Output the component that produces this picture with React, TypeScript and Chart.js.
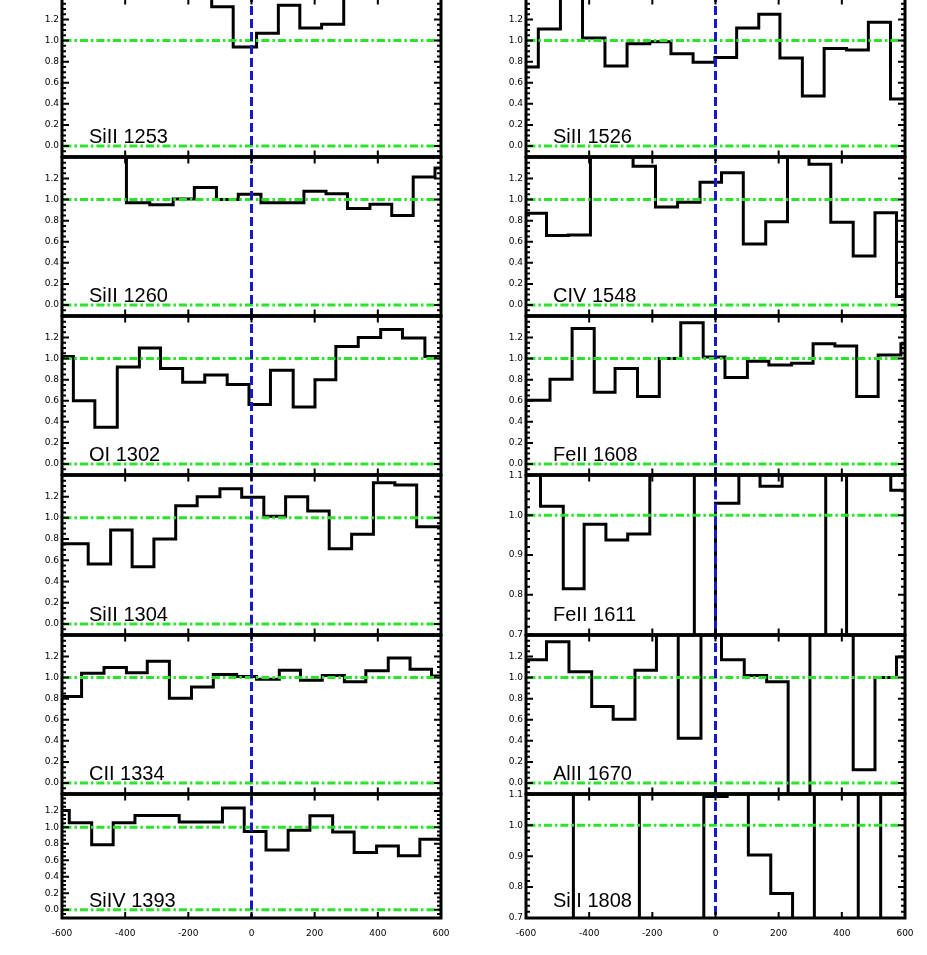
import React, { useEffect, useRef } from "react";
import { Chart, registerables } from "chart.js";

Chart.register(...registerables);

// ---------------- data: velocity bin edges (km/s) and normalised flux per bin ----------------
const si1253Vel = [-700, -126, -58, 16, 85, 153, 222, 292, 700];
const si1253Flux = [1.6, 1.32, 0.94, 1.07, 1.335, 1.12, 1.155, 1.6];

const si1260Vel = [-700, -396, -322, -248, -181, -111, -42, 30, 100, 166, 236, 304, 375, 444, 512, 581, 650];
const si1260Flux = [1.6, 0.97, 0.95, 1.005, 1.115, 1.0, 1.05, 0.97, 0.97, 1.08, 1.055, 0.915, 0.955, 0.85, 1.215, 1.3];

const o1302Vel = [-634, -564, -496, -425, -355, -288, -218, -148, -77, -8, 60, 132, 201, 267, 338, 409, 478, 549, 618];
const o1302Flux = [1.02, 0.6, 0.35, 0.92, 1.1, 0.905, 0.775, 0.845, 0.755, 0.565, 0.89, 0.54, 0.8, 1.115, 1.2, 1.275, 1.195, 1.02];

const si1304Vel = [-660, -517, -446, -378, -309, -240, -172, -100, -31, 39, 108, 178, 246, 317, 386, 454, 523, 591, 660];
const si1304Flux = [0.755, 0.565, 0.885, 0.54, 0.8, 1.115, 1.2, 1.275, 1.195, 1.015, 1.2, 1.065, 0.71, 0.845, 1.33, 1.31, 0.915, 0.915];

const c1334Vel = [-610, -538, -467, -396, -330, -260, -190, -121, -47, 16, 88, 155, 224, 294, 362, 433, 502, 570, 640];
const c1334Flux = [0.82, 1.04, 1.095, 1.045, 1.155, 0.805, 0.91, 1.03, 1.01, 0.985, 1.07, 0.975, 1.02, 0.96, 1.065, 1.185, 1.08, 1.015];

const si1393Vel = [-646, -577, -506, -438, -369, -298, -229, -160, -92, -23, 46, 116, 185, 257, 325, 396, 465, 533, 640];
const si1393Flux = [1.205, 1.055, 0.79, 1.055, 1.145, 1.145, 1.065, 1.065, 1.235, 0.95, 0.725, 0.965, 1.14, 0.945, 0.695, 0.775, 0.655, 0.855];

const si1526Vel = [-631, -561, -491, -421, -350, -280, -208, -141, -71, -2, 67, 137, 204, 275, 344, 415, 484, 554, 625];
const si1526Flux = [0.75, 1.11, 1.6, 1.025, 0.76, 0.97, 0.99, 0.875, 0.795, 0.84, 1.12, 1.25, 0.835, 0.475, 0.925, 0.91, 1.175, 0.445];

const c1548Vel = [-640, -535, -466, -396, -329, -261, -190, -120, -49, 19, 88, 159, 228, 296, 365, 436, 505, 573, 642];
const c1548Flux = [0.87, 0.66, 0.665, 1.6, 1.6, 1.315, 0.93, 0.975, 1.165, 1.255, 0.58, 0.79, 1.6, 1.335, 0.785, 0.465, 0.875, 0.08];

const fe1608Vel = [-640, -524, -454, -384, -318, -247, -178, -110, -39, 30, 101, 169, 241, 309, 378, 447, 515, 587, 656];
const fe1608Flux = [0.605, 0.805, 1.285, 0.68, 0.905, 0.64, 1.0, 1.34, 1.015, 0.82, 0.975, 0.94, 0.955, 1.14, 1.12, 0.64, 1.035, 1.14];

const fe1611Vel = [-624, -554, -482, -416, -347, -278, -208, -137, -67, 0, 74, 141, 211, 280, 349, 415, 486, 555, 625];
const fe1611Flux = [1.3, 1.0225, 0.815, 0.9775, 0.9375, 0.9525, 1.3, 1.3, 0.5, 1.03, 1.3, 1.0725, 1.3, 1.3, 0.5, 1.3, 1.3, 1.0625];

const al1670Vel = [-640, -535, -464, -392, -324, -255, -187, -118, -46, 19, 91, 162, 230, 299, 368, 436, 505, 573, 642];
const al1670Flux = [1.17, 1.34, 1.055, 0.725, 0.605, 1.07, 1.6, 0.425, 1.6, 1.17, 1.02, 0.96, -0.3, 1.6, 1.6, 0.125, 1.0, 1.195];

const si1808Vel = [-660, -450, -382, -311, -241, -173, -105, -37, 37, 104, 175, 244, 313, 383, 452, 523, 591, 660];
const si1808Flux = [0.5, 1.3, 1.3, 1.3, 0.5, 0.5, 0.5, 1.093, 1.3, 0.904, 0.779, 0.5, 1.3, 1.3, 0.5, 1.3, 1.3];

// ---------------- axes ----------------
const xTicks = [-600, -400, -200, 0, 200, 400, 600];
const normTicks = [0, 0.2, 0.4, 0.6, 0.8, 1.0, 1.2];
const narrowTicks = [0.7, 0.8, 0.9, 1.0, 1.1];
const normRefLevels = [0, 1];
const narrowRefLevels = [1];
const systemicVelocity = [0];

type Kind = "norm" | "narrow";
interface PanelSpec {
  label: string;
  vel: number[];
  flux: number[];
  kind: Kind;
}

const leftPanels: PanelSpec[] = [
  { label: "SiII 1253", vel: si1253Vel, flux: si1253Flux, kind: "norm" },
  { label: "SiII 1260", vel: si1260Vel, flux: si1260Flux, kind: "norm" },
  { label: "OI 1302", vel: o1302Vel, flux: o1302Flux, kind: "norm" },
  { label: "SiII 1304", vel: si1304Vel, flux: si1304Flux, kind: "norm" },
  { label: "CII 1334", vel: c1334Vel, flux: c1334Flux, kind: "norm" },
  { label: "SiIV 1393", vel: si1393Vel, flux: si1393Flux, kind: "norm" },
];
const rightPanels: PanelSpec[] = [
  { label: "SiII 1526", vel: si1526Vel, flux: si1526Flux, kind: "norm" },
  { label: "CIV 1548", vel: c1548Vel, flux: c1548Flux, kind: "norm" },
  { label: "FeII 1608", vel: fe1608Vel, flux: fe1608Flux, kind: "norm" },
  { label: "FeII 1611", vel: fe1611Vel, flux: fe1611Flux, kind: "narrow" },
  { label: "AlII 1670", vel: al1670Vel, flux: al1670Flux, kind: "norm" },
  { label: "SiII 1808", vel: si1808Vel, flux: si1808Flux, kind: "narrow" },
];

// ---------------- layout ----------------
const ROW_EDGES = [-2, 157, 316, 475, 635, 794, 918];
const COLS = [
  { left: 0, width: 470, axisW: 62, padRight: 29 },
  { left: 470, width: 457, axisW: 56, padRight: 22 },
];
const PAD = 8;
const XAXIS_H = 30;

const KIND: Record<Kind, { min: number; max: number; ticks: number[]; minor: number; refs: number[] }> = {
  norm: { min: -0.1, max: 1.4, ticks: normTicks, minor: 0.05, refs: normRefLevels },
  narrow: { min: 0.7, max: 1.1, ticks: narrowTicks, minor: 0.02, refs: narrowRefLevels },
};

const GREEN = "#2ae32a";
const BLUE = "#1818c8";
const TICK_FONT = { family: "'DejaVu Sans', sans-serif", size: 9 };

const decorPlugin = {
  id: "panelDecor",
  afterDraw(chart: any, _args: any, opts: any) {
    const { ctx, chartArea: a } = chart;
    const xs = chart.scales.x;
    const ys = chart.scales.y;
    const k = KIND[opts.kind as Kind];
    ctx.save();
    ctx.strokeStyle = "#000";
    ctx.lineWidth = 2;
    ctx.beginPath();
    const n = Math.round((k.max - k.min) / k.minor);
    for (let i = 0; i <= n; i++) {
      const py = ys.getPixelForValue(k.min + i * k.minor);
      ctx.moveTo(a.left, py);
      ctx.lineTo(a.left + 4, py);
      ctx.moveTo(a.right, py);
      ctx.lineTo(a.right - 4, py);
    }
    for (const t of k.ticks) {
      const py = ys.getPixelForValue(t);
      ctx.moveTo(a.left, py);
      ctx.lineTo(a.left + 7, py);
      ctx.moveTo(a.right, py);
      ctx.lineTo(a.right - 7, py);
    }
    for (const t of xTicks) {
      const px = xs.getPixelForValue(t);
      ctx.moveTo(px, a.bottom);
      ctx.lineTo(px, a.bottom - 6);
      ctx.moveTo(px, a.top);
      ctx.lineTo(px, a.top + 6);
    }
    ctx.stroke();
    ctx.lineWidth = 3;
    ctx.strokeRect(a.left, a.top, a.right - a.left, a.bottom - a.top);
    ctx.fillStyle = "#000";
    ctx.font = "20px 'Liberation Sans', Arial, sans-serif";
    ctx.textAlign = "left";
    ctx.textBaseline = "alphabetic";
    ctx.fillText(opts.label, a.left + 27, a.bottom - 0.085 * (a.bottom - a.top));
    ctx.restore();
  },
};

function Panel({ spec, col, row }: { spec: PanelSpec; col: number; row: number }) {
  const ref = useRef<HTMLCanvasElement>(null);
  const c = COLS[col];
  const isBottom = row === ROW_EDGES.length - 2;
  const top = ROW_EDGES[row];
  const bottom = ROW_EDGES[row + 1];
  const canvasTop = top - PAD;
  const height = bottom - top + PAD + (isBottom ? XAXIS_H : PAD);

  useEffect(() => {
    const k = KIND[spec.kind];
    const datasets: any[] = [
      ...systemicVelocity.map((v) => ({
        data: [
          { x: v, y: k.min - 1 },
          { x: v, y: k.max + 1 },
        ],
        borderColor: BLUE,
        borderWidth: 3,
        borderDash: [9, 4],
        order: 0,
      })),
      ...k.refs.map((r) => ({
        data: [
          { x: -700, y: r },
          { x: 700, y: r },
        ],
        borderColor: GREEN,
        borderWidth: 3,
        borderDash: [8, 3, 2.5, 3],
        order: 1,
      })),
      {
        data: spec.vel.map((v, i) => ({ x: v, y: spec.flux[Math.min(i, spec.flux.length - 1)] })),
        borderColor: "#000",
        borderWidth: 3,
        stepped: true,
        borderJoinStyle: "miter",
        order: 2,
      },
    ];
    const chart = new Chart(ref.current!, {
      type: "line",
      data: { datasets },
      plugins: [decorPlugin],
      options: {
        responsive: false,
        animation: false,
        events: [],
        layout: { padding: { left: 0, right: c.padRight, top: PAD, bottom: isBottom ? 0 : PAD } },
        elements: { point: { radius: 0 }, line: { tension: 0, fill: false } },
        plugins: {
          legend: { display: false },
          tooltip: { enabled: false },
          panelDecor: { kind: spec.kind, label: spec.label },
        } as any,
        scales: {
          x: {
            type: "linear",
            min: -600,
            max: 600,
            display: isBottom,
            grid: { display: false, drawTicks: false },
            border: { display: false },
            ticks: {
              color: "#000",
              font: TICK_FONT,
              padding: 10,
              autoSkip: false,
              maxRotation: 0,
              callback: (v: any) => String(v),
            },
            afterBuildTicks: (axis: any) => {
              axis.ticks = xTicks.map((v) => ({ value: v }));
            },
            afterFit: (axis: any) => {
              axis.height = isBottom ? XAXIS_H : 0;
            },
          },
          y: {
            type: "linear",
            min: k.min,
            max: k.max,
            grid: { display: false, drawTicks: false },
            border: { display: false },
            ticks: {
              color: "#000",
              font: TICK_FONT,
              padding: 3,
              autoSkip: false,
              callback: (v: any) => Number(v).toFixed(1),
            },
            afterBuildTicks: (axis: any) => {
              axis.ticks = k.ticks.map((v) => ({ value: v }));
            },
            afterFit: (axis: any) => {
              axis.width = c.axisW;
            },
          },
        },
      } as any,
    });
    return () => chart.destroy();
  }, []);

  return (
    <canvas
      ref={ref}
      width={c.width}
      height={height}
      style={{ position: "absolute", left: c.left, top: canvasTop, width: c.width, height }}
    />
  );
}

export default function App() {
  return (
    <div
      style={{
        position: "absolute",
        left: 0,
        top: 0,
        width: 927,
        height: 955,
        background: "#fff",
        overflow: "hidden",
      }}
    >
      {leftPanels.map((p, i) => (
        <Panel key={"l" + i} spec={p} col={0} row={i} />
      ))}
      {rightPanels.map((p, i) => (
        <Panel key={"r" + i} spec={p} col={1} row={i} />
      ))}
    </div>
  );
}
